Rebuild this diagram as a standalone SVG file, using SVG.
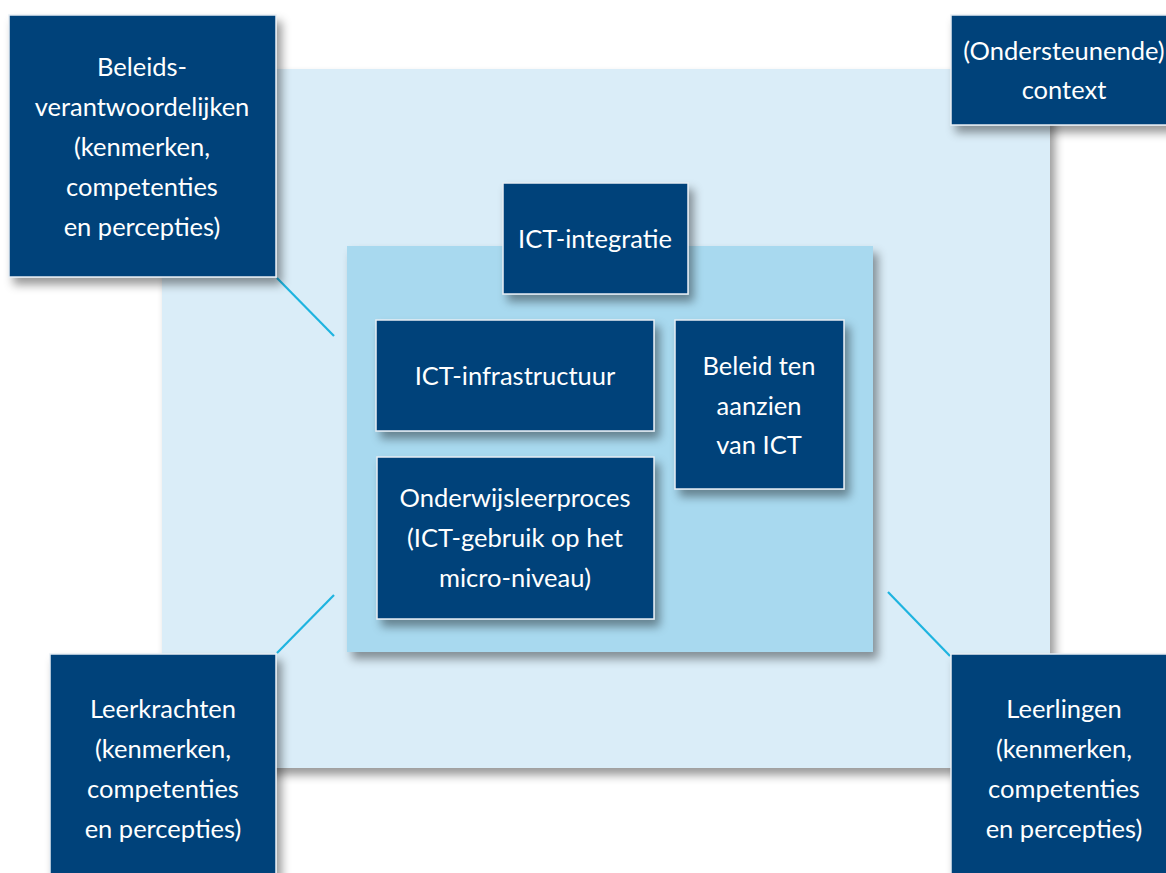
<svg xmlns="http://www.w3.org/2000/svg" width="1166" height="873" viewBox="0 0 1166 873">
<defs>
<filter id="sh" x="-20%" y="-20%" width="150%" height="150%">
<feDropShadow dx="5" dy="7" stdDeviation="5" flood-color="#000" flood-opacity="0.4"/>
</filter>
<style>
.box{fill:#00427a;stroke:#e6edf3;stroke-width:1.5;filter:url(#sh)}
.t{font-family:Lato,"Open Sans","Liberation Sans",sans-serif;font-size:25.5px;fill:#ffffff;text-anchor:middle}
.con{stroke:#1eb4e0;stroke-width:2.2;fill:none}
</style>
</defs>
<rect width="1166" height="873" fill="#ffffff"/>
<g id="context-area"><rect x="162" y="69" width="888" height="699" fill="#daedf8" filter="url(#sh)"/></g>
<g id="school-area"><rect x="347" y="246" width="526" height="406" fill="#a8d9ef" filter="url(#sh)"/></g>
<g id="connectors">
<line class="con" x1="277" y1="278" x2="334" y2="336"/>
<line class="con" x1="277" y1="653" x2="334" y2="595"/>
<line class="con" x1="888" y1="592" x2="950" y2="656"/>
</g>
<g id="beleidsverantwoordelijken">
<rect class="box" x="9" y="15" width="267" height="262"/>
<text class="t" x="142" y="76">Beleids-</text>
<text class="t" x="142" y="116">verantwoordelijken</text>
<text class="t" x="142" y="156">(kenmerken,</text>
<text class="t" x="142" y="196">competenties</text>
<text class="t" x="142" y="236">en percepties)</text>
</g>
<g id="context">
<rect class="box" x="951" y="15" width="230" height="110"/>
<text class="t" x="1064" y="60">(Ondersteunende)</text>
<text class="t" x="1064" y="99">context</text>
</g>
<g id="leerkrachten">
<rect class="box" x="50" y="654" width="226" height="240"/>
<text class="t" x="163" y="718">Leerkrachten</text>
<text class="t" x="163" y="758">(kenmerken,</text>
<text class="t" x="163" y="798">competenties</text>
<text class="t" x="163" y="838">en percepties)</text>
</g>
<g id="leerlingen">
<rect class="box" x="951" y="654" width="230" height="240"/>
<text class="t" x="1064" y="718">Leerlingen</text>
<text class="t" x="1064" y="758">(kenmerken,</text>
<text class="t" x="1064" y="798">competenties</text>
<text class="t" x="1064" y="838">en percepties)</text>
</g>
<g id="ict-integratie">
<rect class="box" x="503" y="183" width="185" height="111"/>
<text class="t" x="595" y="248">ICT-integratie</text>
</g>
<g id="ict-infrastructuur">
<rect class="box" x="376" y="320" width="278" height="111"/>
<text class="t" x="515" y="385">ICT-infrastructuur</text>
</g>
<g id="beleid-ict">
<rect class="box" x="675" y="320" width="169" height="169"/>
<text class="t" x="759" y="375">Beleid ten</text>
<text class="t" x="759" y="415">aanzien</text>
<text class="t" x="759" y="454">van ICT</text>
</g>
<g id="onderwijsleerproces">
<rect class="box" x="377" y="457" width="277" height="162"/>
<text class="t" x="515" y="507">Onderwijsleerproces</text>
<text class="t" x="515" y="547">(ICT-gebruik op het</text>
<text class="t" x="515" y="587">micro-niveau)</text>
</g>
</svg>
